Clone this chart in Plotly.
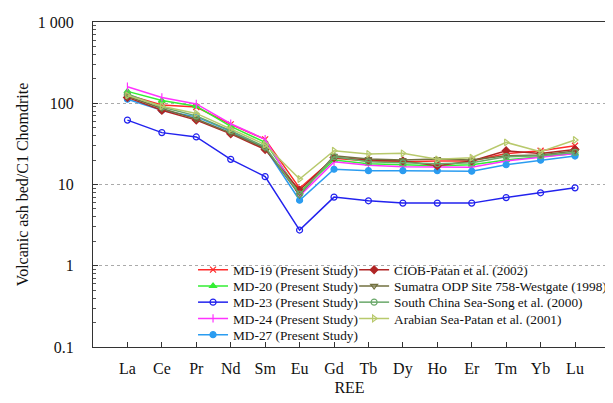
import plotly.graph_objects as go

elements = ["La", "Ce", "Pr", "Nd", "Sm", "Eu", "Gd", "Tb", "Dy", "Ho", "Er", "Tm", "Yb", "Lu"]

md19 = [126, 95, 90, 55, 36, 9.0, 21, 19.5, 19, 19.5, 19.5, 24, 26, 30]
md20 = [140, 108, 92, 52, 33, 8.0, 20, 18, 17.5, 17, 17.5, 20, 22, 24]
md23 = [62, 43.5, 38.5, 20.4, 12.5, 2.75, 7.0, 6.3, 5.9, 5.9, 5.9, 6.9, 7.9, 9.1]
md24 = [160, 118, 98, 56, 36, 7.2, 19, 17.2, 16.5, 16.3, 16.3, 19.5, 21.5, 24]
md27 = [112, 82, 68, 45, 28, 6.4, 15.4, 14.8, 14.8, 14.8, 14.6, 17.5, 19.9, 22.4]
ciob = [118, 82, 62, 42, 27, 8.5, 21.5, 20, 19.5, 17, 19.5, 26, 24, 27]
sumatra = [122, 86, 64, 43, 28, 7.4, 22.6, 20.6, 20, 20.6, 20, 22.6, 23, 25.8]
scs = [130, 90, 70, 46, 29, 7.6, 22, 19, 18.5, 18, 18.5, 22, 22.6, 24.8]
arabian = [125, 92, 75, 48, 31, 11.7, 26, 23.7, 24.2, 20.4, 21.4, 33, 25.3, 35.3]

y_tickvals = [0.1, 1, 10, 100, 1000]
y_ticktext = ["0.1", "1", "10", "100", "1 000"]
y_minor = [m * 10.0 ** e for e in range(-1, 3) for m in range(2, 10)]

# name, values, colour, marker symbol, legend column, legend row
series = [
    ("MD-19 (Present Study)", md19, "#ff2a2a", "x-thin", 0, 0),
    ("MD-20 (Present Study)", md20, "#33ee33", "triangle-up", 0, 1),
    ("MD-23 (Present Study)", md23, "#2222ee", "circle-open", 0, 2),
    ("MD-24 (Present Study)", md24, "#ff33ff", "line-ns", 0, 3),
    ("MD-27 (Present Study)", md27, "#2b9cf0", "circle", 0, 4),
    ("CIOB-Patan et al. (2002)", ciob, "#b02525", "diamond", 1, 0),
    ("Sumatra ODP Site 758-Westgate (1998)", sumatra, "#72703f", "triangle-down-open", 1, 1),
    ("South China Sea-Song et al. (2000)", scs, "#6aa86a", "circle-open", 1, 2),
    ("Arabian Sea-Patan et al. (2001)", arabian, "#b8c96c", "triangle-right-open", 1, 3),
]

serif = "Liberation Serif"
fig = go.Figure()
legend_layouts = {}
col_x = [0.195, 0.509]
plot_top, plot_h = 22, 325  # in page pixels
for i, (name, vals, color, sym, col, row) in enumerate(series):
    lg = "legend" if i == 0 else f"legend{i + 1}"
    fig.add_trace(go.Scatter(
        x=elements, y=vals, name=name, mode="lines+markers",
        line=dict(color=color, width=1.5),
        marker=dict(symbol=sym, size=6, color=color,
                    line=dict(color=color, width=1.2)),
        legend=lg,
    ))
    row_px = 270 + 16.25 * row
    legend_layouts[lg] = dict(
        x=col_x[col], y=(plot_top + plot_h - row_px) / plot_h,
        xanchor="left", yanchor="middle",
        font=dict(family=serif, size=13.3, color="#111"),
        bgcolor="rgba(0,0,0,0)", borderwidth=0, itemwidth=30,
    )

# page body has an 8px margin, so the figure is sized/margined to compensate
fig.update_layout(
    width=605, height=395,
    margin=dict(l=85, r=1, t=14, b=56),
    paper_bgcolor="white", plot_bgcolor="white",
    font=dict(family=serif, size=16, color="#111"),
    showlegend=True,
    **legend_layouts,
)

fig.update_xaxes(
    type="category", categoryorder="array", categoryarray=elements,
    range=[-1.0, 13.9],
    showline=True, linecolor="#333", linewidth=1.2, mirror=True,
    ticks="inside", ticklen=5, tickcolor="#333",
    ticklabelstandoff=7,
    showgrid=False, zeroline=False,
    tickfont=dict(family=serif, size=16),
    title=dict(text="REE", font=dict(family=serif, size=16), standoff=4),
)

fig.update_yaxes(
    type="log", range=[-1, 3],
    tickvals=y_tickvals, ticktext=y_ticktext,
    showline=True, linecolor="#333", linewidth=1.2, mirror=True,
    ticks="inside", ticklen=5, tickcolor="#333",
    ticklabelstandoff=15,
    minor=dict(tickvals=y_minor, ticks="inside", ticklen=3, tickcolor="#555", showgrid=False),
    showgrid=True, gridcolor="#aaaaaa", griddash="3px,3px", gridwidth=1,
    zeroline=False,
    tickfont=dict(family=serif, size=16),
    title=dict(text="Volcanic ash bed/C1 Chomdrite", font=dict(family=serif, size=16), standoff=5),
)

fig.write_html("out.html")
